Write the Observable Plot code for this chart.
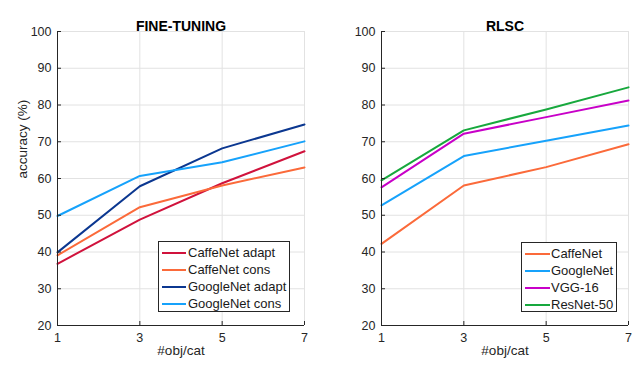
<!DOCTYPE html>
<html>
<head>
<meta charset="utf-8">
<script src="https://cdn.jsdelivr.net/npm/d3@7"></script>
<script src="https://cdn.jsdelivr.net/npm/@observablehq/plot@0.6"></script>
<style>
  html, body { margin: 0; padding: 0; background: #fff; }
  #wrap { position: relative; width: 633px; height: 365px; font-family: "Liberation Sans", Arial, Helvetica, sans-serif; }
  #wrap svg { position: absolute; top: 0; }
  .legend { position: absolute; box-sizing: border-box; border: 1px solid #262626; background: #fff; }
  .legend .row { position: absolute; left: 0; right: 0; height: 17px; }
  .legend .sw { position: absolute; height: 2px; top: 8px; }
  .legend .lb { position: absolute; top: 0; line-height: 17px; font-size: 13px; color: #1a1a1a; white-space: nowrap; }
</style>
</head>
<body>
<div id="wrap"></div>
<script>
// ---- data ----
const objPerCat = [1, 3, 5, 7];
const xTicks = [1, 3, 5, 7];
const yTicks = [20, 30, 40, 50, 60, 70, 80, 90, 100];

const ftTitle = "FINE-TUNING";
const ftSeries = ["CaffeNet adapt", "CaffeNet cons", "GoogleNet adapt", "GoogleNet cons"];
const ftColors = ["#d0123c", "#fb6a3a", "#0b3790", "#16a2fb"];
const ftCaffeNetAdapt  = [36.8, 48.8, 58.7, 67.4];
const ftCaffeNetCons   = [39.1, 52.2, 58.1, 63.0];
const ftGoogleNetAdapt = [39.9, 57.9, 68.2, 74.7];
const ftGoogleNetCons  = [49.8, 60.7, 64.4, 70.1];

const rlscTitle = "RLSC";
const rlscSeries = ["CaffeNet", "GoogleNet", "VGG-16", "ResNet-50"];
const rlscColors = ["#fb6a3a", "#16a2fb", "#c800c8", "#17a83d"];
const rlscCaffeNet  = [42.2, 58.1, 63.1, 69.3];
const rlscGoogleNet = [52.7, 66.1, 70.3, 74.4];
const rlscVGG16     = [57.6, 72.2, 76.7, 81.2];
const rlscResNet50  = [59.5, 73.1, 78.8, 84.8];

const xLabel = "#obj/cat";
const yLabel = "accuracy (%)";

function toRows(names, arrays) {
  const rows = [];
  names.forEach((n, i) => arrays[i].forEach((v, j) => rows.push({series: n, x: objPerCat[j], y: v})));
  return rows;
}

const ftData = toRows(ftSeries, [ftCaffeNetAdapt, ftCaffeNetCons, ftGoogleNetAdapt, ftGoogleNetCons]);
const rlscData = toRows(rlscSeries, [rlscCaffeNet, rlscGoogleNet, rlscVGG16, rlscResNet50]);

const axisColor = "#262626";
const gridColor = "#e2e2e2";

function panel({data, names, colors, title, width, marginLeft, marginRight, showYLabel}) {
  const marks = [
    Plot.gridX({ticks: xTicks, stroke: gridColor, strokeOpacity: 1}),
    Plot.gridY({ticks: yTicks, stroke: gridColor, strokeOpacity: 1}),
    Plot.line(data, {x: "x", y: "y", z: "series", stroke: "series", strokeWidth: 2}),
    Plot.ruleX([1], {stroke: axisColor}),
    Plot.ruleY([20], {stroke: axisColor}),
    // inward ticks
    Plot.axisY({ticks: yTicks, tickSize: 4, dx: 4, text: null, stroke: axisColor, label: null}),
    Plot.axisX({ticks: xTicks, tickSize: 4, dy: -4, text: null, stroke: axisColor, label: null}),
    // tick labels
    Plot.axisY({ticks: yTicks, tickFormat: "d", tickSize: 0, tickPadding: 6, fill: axisColor, fontSize: 12.5, label: null}),
    Plot.axisX({ticks: xTicks, tickFormat: "d", tickSize: 0, tickPadding: 8, fill: axisColor, fontSize: 12.5, label: null}),
    Plot.text([title], {frameAnchor: "top", dy: -10, fontWeight: "bold", fontSize: 14, fill: "#000"}),
    Plot.text([xLabel], {frameAnchor: "bottom", dy: 29, fontSize: 13.5, fill: axisColor})
  ];
  if (showYLabel) {
    marks.push(Plot.text([yLabel], {frameAnchor: "left", dx: -34.5, rotate: -90, fontSize: 13.5, fill: axisColor}));
  }
  return Plot.plot({
    width, height: 365,
    marginLeft, marginRight, marginTop: 31, marginBottom: 40,
    style: {fontFamily: '"Liberation Sans", Arial, Helvetica, sans-serif', background: "transparent", overflow: "visible"},
    x: {domain: [1, 7]},
    y: {domain: [20, 100]},
    color: {domain: names, range: colors},
    marks
  });
}

const wrap = document.getElementById("wrap");
const left = panel({data: ftData, names: ftSeries, colors: ftColors, title: ftTitle, width: 316, marginLeft: 57, marginRight: 12, showYLabel: true});
left.style.left = "0px";
const right = panel({data: rlscData, names: rlscSeries, colors: rlscColors, title: rlscTitle, width: 317, marginLeft: 65, marginRight: 5, showYLabel: false});
right.style.left = "316px";
wrap.appendChild(left);
wrap.appendChild(right);

function legend({names, colors, left, top, width, height, swLeft, swWidth, textLeft}) {
  const box = document.createElement("div");
  box.className = "legend";
  Object.assign(box.style, {left: left + "px", top: top + "px", width: width + "px", height: height + "px"});
  names.forEach((n, i) => {
    const row = document.createElement("div");
    row.className = "row";
    row.style.top = (2 + i * 17) + "px";
    const sw = document.createElement("div");
    sw.className = "sw";
    Object.assign(sw.style, {left: swLeft + "px", width: swWidth + "px", background: colors[i]});
    const lb = document.createElement("div");
    lb.className = "lb";
    lb.style.left = textLeft + "px";
    lb.textContent = n;
    row.appendChild(sw);
    row.appendChild(lb);
    box.appendChild(row);
  });
  wrap.appendChild(box);
}

legend({names: ftSeries, colors: ftColors, left: 158, top: 241, width: 132, height: 71, swLeft: 3, swWidth: 24, textLeft: 29});
legend({names: rlscSeries, colors: rlscColors, left: 521, top: 242, width: 96, height: 70, swLeft: 3, swWidth: 25, textLeft: 29});
</script>
</body>
</html>
